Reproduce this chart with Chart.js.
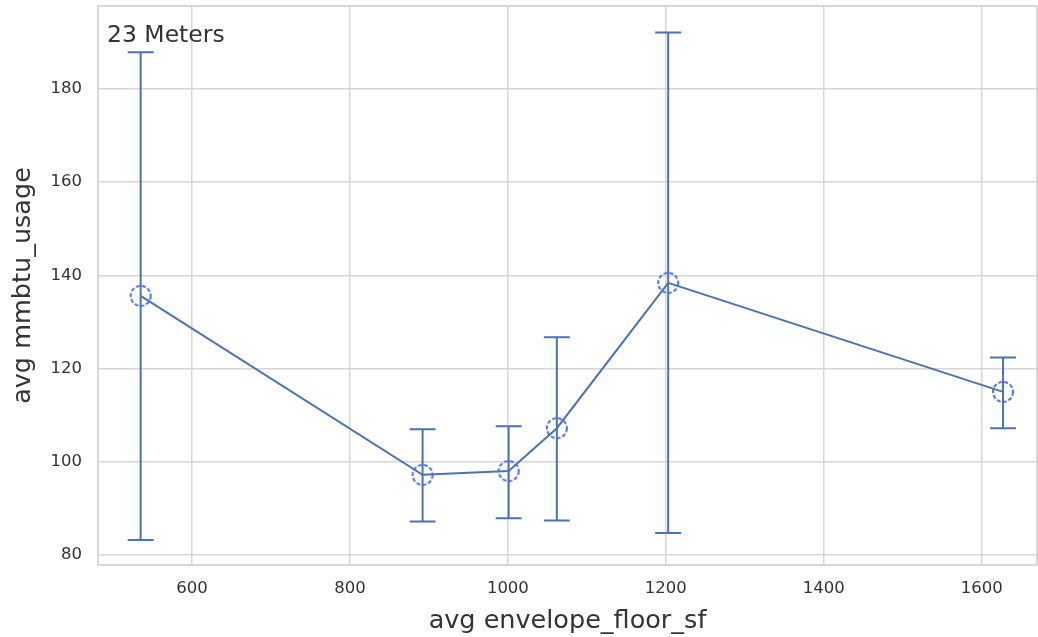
<!DOCTYPE html>
<html lang="en">
  <head>
    <meta charset="UTF-8" />
    <title>23 Meters</title>
    <script src="https://cdn.jsdelivr.net/npm/chart.js"></script>
    <style>
      body { margin: 0; background: #fff; }
    </style>
  </head>
  <body>
    <canvas id="chart" width="1038" height="637"></canvas>
    <script>
      // data
      const floorSf = [535, 892, 1001, 1062, 1203, 1627];
      const mmbtu = [135.6, 97.2, 98.0, 107.2, 138.4, 115.0];
      const errLow = [83.2, 87.2, 87.9, 87.4, 84.7, 107.2];
      const errHigh = [187.9, 107.0, 107.6, 126.7, 192.1, 122.4];
      const xTicks = [600, 800, 1000, 1200, 1400, 1600];
      const yTicks = [80, 100, 120, 140, 160, 180];

      const lineColor = "#4c72b0";
      const gridColor = "#d6d6d6";

      // dashed open circle used as marker
      const marker = document.createElement("canvas");
      marker.width = 26;
      marker.height = 26;
      const mctx = marker.getContext("2d");
      mctx.strokeStyle = "#4a6fdc";
      mctx.lineWidth = 2;
      mctx.setLineDash([4, 2]);
      mctx.beginPath();
      mctx.arc(13, 13, 10, 0, Math.PI * 2);
      mctx.stroke();

      // vertical error bars with caps
      const errorBars = {
        id: "errorBars",
        beforeDatasetsDraw(chart) {
          const { ctx, scales } = chart;
          ctx.save();
          ctx.strokeStyle = lineColor;
          ctx.lineWidth = 2;
          floorSf.forEach((x, i) => {
            const px = scales.x.getPixelForValue(x);
            const top = scales.y.getPixelForValue(errHigh[i]);
            const bot = scales.y.getPixelForValue(errLow[i]);
            ctx.beginPath();
            ctx.moveTo(px, top);
            ctx.lineTo(px, bot);
            ctx.moveTo(px - 13, top);
            ctx.lineTo(px + 13, top);
            ctx.moveTo(px - 13, bot);
            ctx.lineTo(px + 13, bot);
            ctx.stroke();
          });
          ctx.restore();
        },
      };

      // light frame around plot area plus the label
      const frame = {
        id: "frame",
        beforeDatasetsDraw(chart) {
          const { ctx, chartArea: a } = chart;
          ctx.save();
          ctx.strokeStyle = "#cccccc";
          ctx.lineWidth = 1.5;
          ctx.strokeRect(a.left, a.top, a.right - a.left, a.bottom - a.top);
          ctx.fillStyle = "#333333";
          ctx.font = "23.5px 'DejaVu Sans'";
          ctx.textBaseline = "top";
          ctx.fillText("23 Meters", a.left + 9, a.top + 18);
          ctx.restore();
        },
      };

      new Chart(document.getElementById("chart"), {
        type: "line",
        data: {
          datasets: [
            {
              data: floorSf.map((x, i) => ({ x: x, y: mmbtu[i] })),
              borderColor: lineColor,
              borderWidth: 2,
              pointStyle: marker,
              pointRadius: 10,
              tension: 0,
            },
          ],
        },
        options: {
          responsive: false,
          animation: false,
          layout: { autoPadding: false, padding: { top: 6, right: 1, left: 0, bottom: 0 } },
          plugins: { legend: { display: false }, tooltip: { enabled: false } },
          scales: {
            x: {
              type: "linear",
              min: 481,
              max: 1670,
              afterBuildTicks(axis) {
                axis.ticks = xTicks.map((v) => ({ value: v }));
              },
              afterFit(axis) {
                axis.height = 72;
                axis.paddingLeft = 0;
                axis.paddingRight = 0;
              },
              grid: { color: gridColor, lineWidth: 1.5, drawTicks: false },
              border: { display: false },
              ticks: {
                maxRotation: 0,
                padding: 14,
                color: "#333",
                font: { family: "DejaVu Sans", size: 16.5 },
                callback: (v) => String(v),
              },
              title: {
                display: true,
                text: "avg envelope_floor_sf",
                color: "#333",
                font: { family: "DejaVu Sans", size: 25.5 },
                padding: { top: 0, bottom: 0 },
              },
            },
            y: {
              min: 77.85,
              max: 197.8,
              afterBuildTicks(axis) {
                axis.ticks = yTicks.map((v) => ({ value: v }));
              },
              afterFit(axis) {
                axis.width = 98;
                axis.paddingTop = 0;
                axis.paddingBottom = 0;
              },
              grid: { color: gridColor, lineWidth: 1.5, drawTicks: false },
              border: { display: false },
              ticks: {
                padding: 16,
                color: "#333",
                font: { family: "DejaVu Sans", size: 16.5 },
                callback: (v) => String(v),
              },
              title: {
                display: true,
                text: "avg mmbtu_usage",
                color: "#333",
                font: { family: "DejaVu Sans", size: 25.5 },
                padding: { top: 8, bottom: 6 },
              },
            },
          },
        },
        plugins: [errorBars, frame],
      });
    </script>
  </body>
</html>
